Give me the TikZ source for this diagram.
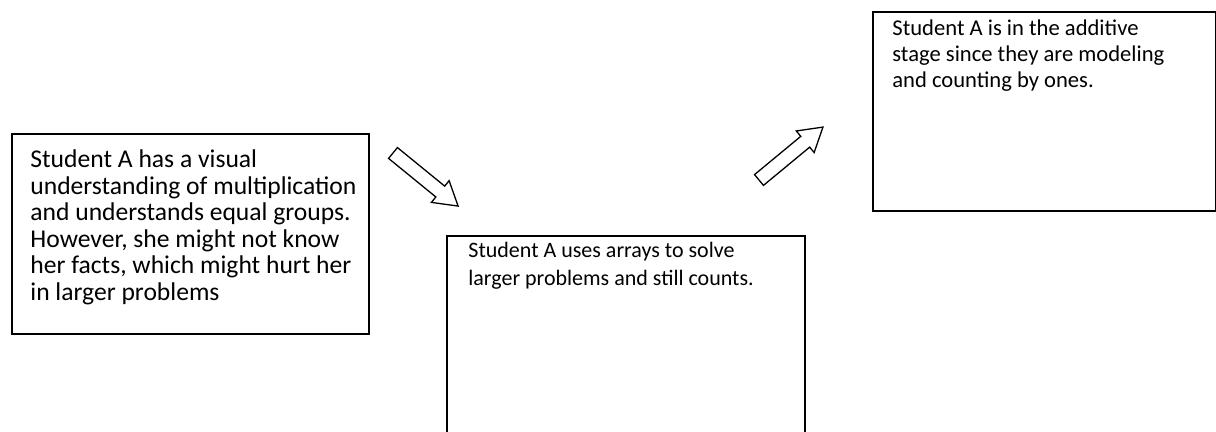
\documentclass[tikz,border=0pt]{standalone}
\usepackage{fontspec}
\setmainfont{Carlito}
\begin{document}
\begin{tikzpicture}[x=0.5pt,y=0.5pt,
  box/.style={draw=black,line width=1pt,fill=white,inner sep=0pt,anchor=north west},
  txt/.style={anchor=base west,inner sep=0pt,align=left},
  blockarrow/.style={draw=black,line width=0.65pt,fill=white,line join=miter}]
\clip (0,0) rectangle (1216,432);
\fill[white] (0,0) rectangle (1216,432);
% boxes
\node[box,minimum width=178.5pt,minimum height=100pt] (b1) at (11,299) {};
\node[box,minimum width=179pt,minimum height=105pt] (b2) at (446,197) {};
\node[box,minimum width=171.5pt,minimum height=99.5pt] (b3) at (872,421) {};
% texts
\node[txt,font=\fontsize{12.8pt}{13.25pt}\selectfont] (t1) at (30,131.5) {Student A has a visual\\understanding of multiplication\\and understands equal groups.\\However, she might not know\\her facts, which might hurt her\\in larger problems};
\node[txt,font=\fontsize{11pt}{14pt}\selectfont] (t2) at (468,146.5) {Student A uses arrays to solve\\larger problems and still counts.};
\node[txt,font=\fontsize{11.3pt}{13pt}\selectfont] (t3) at (892,344) {Student A is in the additive\\stage since they are modeling\\and counting by ones.};
% block arrows
\coordinate (a1) at (393,279);
\coordinate (a2) at (759,252);
\begin{scope}[shift={(a1)},rotate=-39.2]
\draw[blockarrow] (0,-7)--(61,-7)--(61,-14)--(84,0)--(61,14)--(61,7)--(0,7)--cycle;
\end{scope}
\begin{scope}[shift={(a2)},rotate=39.6]
\draw[blockarrow] (0,-7)--(60,-7)--(60,-14)--(83,0)--(60,14)--(60,7)--(0,7)--cycle;
\end{scope}
\end{tikzpicture}
\end{document}
